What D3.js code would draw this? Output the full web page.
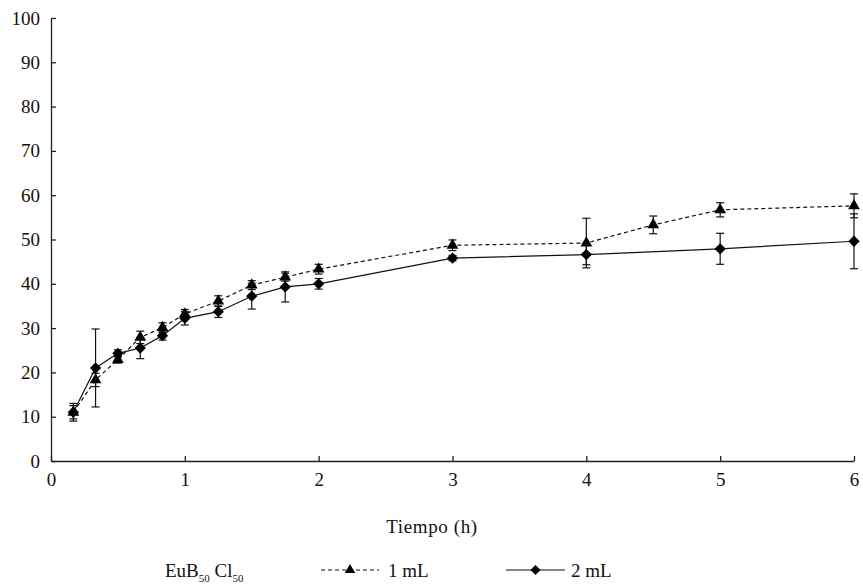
<!DOCTYPE html>
<html>
<head>
<meta charset="utf-8">
<script src="https://cdn.jsdelivr.net/npm/d3@7"></script>
<style>
  body { margin: 0; background: #fff; }
  svg text, svg tspan { font-family: "Liberation Serif", "Times New Roman", "DejaVu Serif", serif !important; }
</style>
</head>
<body>
<div id="chart"></div>
<script>
// chart size and margins
const width = 863;
const height = 585;
const margin = {left: 51, right: 9, top: 18, bottom: 124};

// data (time in hours)
const times1 = [0.167, 0.333, 0.5, 0.667, 0.833, 1, 1.25, 1.5, 1.75, 2, 3, 4, 4.5, 5, 6];
const values1 = [11, 18.3, 22.9, 27.9, 30.1, 33.2, 36.1, 39.7, 41.5, 43.3, 48.7, 49.2, 53.3, 56.7, 57.6];
const errors1 = [1.5, 1.5, 0.8, 1.4, 1.1, 1.0, 1.2, 1.0, 0.9, 1.1, 1.2, 5.6, 2.0, 1.6, 2.7];

const times2 = [0.167, 0.333, 0.5, 0.667, 0.833, 1, 1.25, 1.5, 1.75, 2, 3, 4, 4.5, 5, 6];
const values2 = [11, 21, 24.3, 25.5, 28.3, 32.2, 33.7, 37.2, 39.3, 40, 45.8, 46.6, null, 47.9, 49.6];
const errors2 = [2.0, 8.8, 0.8, 2.4, 1.0, 1.5, 1.3, 2.9, 3.4, 1.2, 0.6, 2.3, null, 3.5, 6.2];

const xTicks = [0, 1, 2, 3, 4, 5, 6];
const yTicks = [0, 10, 20, 30, 40, 50, 60, 70, 80, 90, 100];

// diamond = square turned 45 degrees
const series = [
  {name: "1 mL", times: times1, values: values1, errors: errors1, dash: "4,3", symbol: d3.symbolTriangle, size: 60, rot: 0},
  {name: "2 mL", times: times2, values: values2, errors: errors2, dash: null, symbol: d3.symbolSquare, size: 64, rot: 45}
];

const svg = d3.select("#chart")
  .append("svg")
  .attr("width", width)
  .attr("height", height);

// scales
const x = d3.scaleLinear().domain([0, 6]).range([margin.left, width - margin.right]);
const y = d3.scaleLinear().domain([0, 100]).range([height - margin.bottom, margin.top]);

// axes, ticks point inward
svg.append("g")
  .attr("transform", `translate(0,${y(0)})`)
  .call(d3.axisBottom(x).tickValues(xTicks).tickFormat(d3.format("d"))
          .tickSize(-5).tickPadding(12).tickSizeOuter(0))
  .attr("font-family", null)
  .attr("font-size", 19)
  .call(g => g.selectAll("path, line").attr("stroke", "#222").attr("stroke-width", 1.3))
  .call(g => g.selectAll("text").attr("fill", "#111"));

svg.append("g")
  .attr("transform", `translate(${x(0)},0)`)
  .call(d3.axisLeft(y).tickValues(yTicks).tickFormat(d3.format("d"))
          .tickSize(-5).tickPadding(11).tickSizeOuter(0))
  .attr("font-family", null)
  .attr("font-size", 19)
  .call(g => g.selectAll("path, line").attr("stroke", "#222").attr("stroke-width", 1.3))
  .call(g => g.selectAll("text").attr("fill", "#111"));

// lines, error bars and markers for each series
series.forEach(s => {
  const pts = s.times.map((t, i) => ({t: t, v: s.values[i], e: s.errors[i]}))
    .filter(d => d.v !== null);

  const line = d3.line().x(d => x(d.t)).y(d => y(d.v));
  svg.append("path")
    .datum(pts)
    .attr("fill", "none")
    .attr("stroke", "#111")
    .attr("stroke-width", 1.2)
    .attr("stroke-dasharray", s.dash)
    .attr("d", line);

  const eb = svg.append("g").attr("stroke", "#111").attr("stroke-width", 1.2);
  pts.forEach(d => {
    eb.append("line").attr("x1", x(d.t)).attr("x2", x(d.t))
      .attr("y1", y(d.v - d.e)).attr("y2", y(d.v + d.e));
    [d.v - d.e, d.v + d.e].forEach(v => {
      eb.append("line").attr("x1", x(d.t) - 4).attr("x2", x(d.t) + 4)
        .attr("y1", y(v)).attr("y2", y(v));
    });
  });

  svg.append("g").selectAll("path")
    .data(pts)
    .enter()
    .append("path")
      .attr("transform", d => `translate(${x(d.t)},${y(d.v)}) rotate(${s.rot})`)
      .attr("d", d3.symbol().type(s.symbol).size(s.size))
      .attr("fill", "#000");
});

// axis title
svg.append("text")
  .attr("x", 432).attr("y", 533)
  .attr("text-anchor", "middle")
  .attr("font-size", 19)
  .attr("letter-spacing", 0.6)
  .attr("fill", "#111")
  .text("Tiempo (h)");

// legend
const leg = svg.append("g").attr("font-size", 19).attr("fill", "#111");
const legText = leg.append("text").attr("x", 165).attr("y", 577);
legText.append("tspan").text("EuB");
legText.append("tspan").attr("font-size", 11).attr("dy", 5).text("50");
legText.append("tspan").attr("dy", -5).text(" Cl");
legText.append("tspan").attr("font-size", 11).attr("dy", 5).text("50");

const legItems = [{x0: 321, x1: 379, tx: 388}, {x0: 506, x1: 565, tx: 571}];
series.forEach((s, i) => {
  const it = legItems[i];
  leg.append("line")
    .attr("x1", it.x0).attr("x2", it.x1).attr("y1", 570).attr("y2", 570)
    .attr("stroke", "#111").attr("stroke-width", 1.2)
    .attr("stroke-dasharray", s.dash);
  leg.append("path")
    .attr("transform", `translate(${(it.x0 + it.x1) / 2},570) rotate(${s.rot})`)
    .attr("d", d3.symbol().type(s.symbol).size(s.size * 0.8))
    .attr("fill", "#000");
  leg.append("text").attr("x", it.tx).attr("y", 577).text(s.name);
});
</script>
</body>
</html>
